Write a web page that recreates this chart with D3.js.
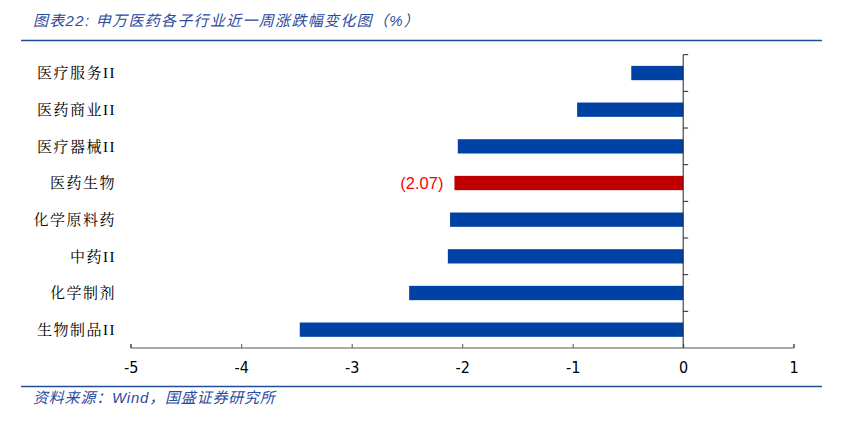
<!DOCTYPE html>
<html><head><meta charset="utf-8">
<script src="https://cdn.jsdelivr.net/npm/d3@7"></script>
<style>
body{margin:0;background:#fff;}
svg{display:block;}
</style></head>
<body><svg id="c" width="847" height="426"></svg>
<script>
const categories = ["医疗服务II","医药商业II","医疗器械II","医药生物","化学原料药","中药II","化学制剂","生物制品II"];
const values = [-0.47,-0.96,-2.04,-2.07,-2.11,-2.13,-2.48,-3.47];
const highlight = "医药生物";
const highlightLabel = "(2.07)";
const xTicks = [-5,-4,-3,-2,-1,0,1];
const titleText = "图表22:  申万医药各子行业近一周涨跌幅变化图（%）";
const sourceText = "资料来源：Wind，国盛证券研究所";

const svg = d3.select("#c");
const blue = "#0041a4", red = "#c00000", axisCol = "#555";
const titleBlue = "#2b4aa0";

const x = d3.scaleLinear().domain([-5,1]).range([130.7,793.7]);
const y = d3.scaleBand().domain(categories).range([54.7,348]).paddingInner(0.61).paddingOuter(0.305);

// title
svg.append("text").attr("x",33).attr("y",26)
  .attr("font-family","Liberation Sans, Noto Sans CJK SC").attr("font-style","italic")
  .attr("font-size",15).attr("letter-spacing",1.3).attr("fill",titleBlue).text(titleText);
svg.append("line").attr("x1",21).attr("x2",822).attr("y1",40.5).attr("y2",40.5)
  .attr("stroke","#1f4e9c").attr("stroke-width",1.5);

// bars
svg.append("g").selectAll("rect").data(categories).join("rect")
  .attr("x",(d,i)=>x(values[i])).attr("width",(d,i)=>x(0)-x(values[i]))
  .attr("y",d=>y(d)).attr("height",y.bandwidth())
  .attr("fill",d=>d===highlight?red:blue);

// highlight label
const hi = categories.indexOf(highlight);
svg.append("text").attr("x",x(values[hi])-11).attr("y",y(highlight)+y.bandwidth()/2)
  .attr("dy","0.35em").attr("text-anchor","end")
  .attr("font-family","Liberation Sans, DejaVu Sans").attr("font-size",16.5).attr("fill","#ff0000")
  .text(highlightLabel);

// x axis
const xAxis = d3.axisBottom(x).tickValues(xTicks).tickSize(-4).tickPadding(14)
  .tickFormat(d3.format("d"));
const gx = svg.append("g").attr("transform","translate(0,348)").call(xAxis);
gx.select(".domain").attr("stroke",axisCol).attr("d",`M${x(-5)},-4V0H${x(1)}V-4`);
gx.selectAll(".tick line").attr("stroke",axisCol);
gx.selectAll(".tick text").attr("font-family","DejaVu Sans Condensed, DejaVu Sans").attr("font-size",16)
  .attr("fill","#000").text(d=>d<0?"-"+Math.abs(d):d);

// y axis at zero with ticks at band boundaries
const gy = svg.append("g");
gy.append("line").attr("x1",x(0)).attr("x2",x(0)).attr("y1",54.7).attr("y2",348).attr("stroke","#222");
const bounds = categories.map(c=>y(c)-y.step()*y.paddingInner()/2);
gy.selectAll(".bt").data(bounds).join("line").attr("class","bt")
  .attr("x1",x(0)).attr("x2",x(0)+5).attr("y1",d=>d).attr("y2",d=>d).attr("stroke","#222");

// category labels
svg.append("g").selectAll("text").data(categories).join("text")
  .attr("x",116).attr("y",d=>y(d)+y.bandwidth()/2).attr("dy","0.35em").attr("text-anchor","end")
  .attr("font-family","Liberation Serif, Noto Serif CJK SC, Noto Sans CJK SC").attr("font-size",15)
  .attr("letter-spacing",1.5)
  .attr("fill","#000").text(d=>d);

// footer
svg.append("line").attr("x1",21).attr("x2",822).attr("y1",386.5).attr("y2",386.5)
  .attr("stroke","#1f4e9c").attr("stroke-width",1.5);
svg.append("text").attr("x",33).attr("y",403)
  .attr("font-family","Liberation Sans, Noto Sans CJK SC").attr("font-style","italic")
  .attr("font-size",15).attr("letter-spacing",0.8).attr("fill",titleBlue).text(sourceText);
</script></body></html>
